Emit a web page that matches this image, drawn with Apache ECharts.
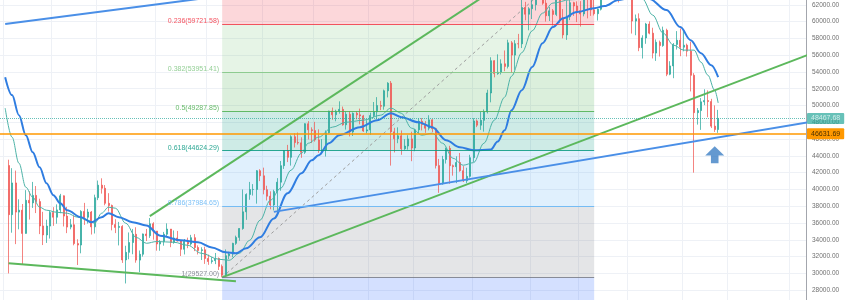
<!DOCTYPE html>
<html><head><meta charset="utf-8">
<script src="https://cdn.jsdelivr.net/npm/echarts@6/dist/echarts.min.js"></script>
<style>html,body{margin:0;padding:0;background:#fff}#c{width:850px;height:300px}</style>
</head><body><div id="c"></div>
<script>
// ---- categories (daily) ----
const categories = [];
(function () { const t0 = Date.UTC(2021, 4, 17); for (let i = 0; i < 240; i++) categories.push(new Date(t0 + i * 86400000).toISOString().slice(0, 10)); })();
const lastVisibleIndex = 233;
const gridDates = ['2021-05-18','2021-06-01','2021-06-14','2021-07-01','2021-07-16','2021-08-01','2021-08-16','2021-09-01','2021-09-14','2021-10-01','2021-10-18','2021-11-01','2021-11-15','2021-12-01','2021-12-14','2022-01-01'];

// ---- candles: [open, close, low, high], daily from candleStartDate ----
const candleStartDate = '2021-05-19';
const candles = [
[42849,37002,30000,43546],[37002,40782,34850,42536],[40782,37304,33488,42250],
[37304,37536,35256,38829],[37536,34770,31111,38270],[34770,38705,34737,39920],[38705,38402,36419,39791],[38402,39294,37800,40900],
[39294,38556,37190,40411],[38556,35658,34684,38900],[35658,34584,33379,37338],[34584,35641,33632,36400],[35641,37254,34153,37499],
[37254,36693,35666,37894],[36693,37568,35920,38225],[37568,39246,37170,39476],[39246,36830,35593,39289],[36830,35520,34800,37925],
[35520,35796,35258,36480],[35796,33552,33350,36900],[33552,33381,31000,34069],[33381,37389,32397,37534],[37389,36693,35780,38400],
[36693,37313,35938,37690],[37313,35546,34634,37439],[35546,39020,34757,39380],[39020,40516,38730,41064],[40516,40144,39506,41330],
[40144,38349,38116,40527],[38349,38092,37365,39559],[38092,35820,35129,38202],[35820,35483,34803,36457],[35483,35600,33336,36137],
[35600,31608,31251,35750],[31608,32509,28805,33298],[32509,33678,31683,34881],[33678,34663,32286,35298],[34663,31584,31275,35500],
[31584,32283,30151,32730],[32283,34700,32002,34749],[34700,34494,33862,35297],[34494,35911,34231,36600],[35911,35045,34017,36100],
[35045,33504,32711,35057],[33504,33786,32699,33977],[33786,34669,33306,34945],[34669,35287,34343,35967],[35287,33690,33125,35293],
[33690,34220,33535,35118],[34220,33862,33780,35059],[33862,32875,32077,33920],[32875,33815,32261,34100],[33815,33502,33005,34262],
[33502,34259,33320,34592],[34259,33086,32658,34678],[33086,32729,32261,33340],[32729,32820,31600,33114],[32820,31780,31133,33185],
[31780,31421,31020,32249],[31421,31520,31164,31935],[31520,31778,31108,32435],[31778,30839,30407,31899],[30839,29791,29527,31063],
[29791,32110,29600,32858],[32110,32314,31708,32576],[32314,33581,31925,33650],[33581,34292,33401,34500],[34292,35350,33888,35398],
[35350,37337,35205,40000],[37337,39406,36383,39542],[39406,39995,38772,40900],[39995,40008,39276,40640],[40008,42235,38313,42316],
[42235,41626,41000,42414],[41626,39974,39422,42599],[39974,39201,38690,40445],[39201,38152,37642,39780],[38152,39747,37508,39969],
[39747,40869,37332,41350],[40869,42836,39851,43392],[42836,44614,42450,44700],[44614,43829,43261,45310],[43829,46286,42843,46454],
[46286,45593,45000,46700],[45593,45551,45342,46784],[45551,44428,43770,46218],[44428,47833,44233,47886],[47833,47109,45960,48144],
[47109,47014,45525,47400],[47014,45902,45700,48053],[45902,44695,44376,47160],[44695,44705,44203,46000],[44705,46760,43927,47033],
[46760,49339,46651,49382],[49339,48905,48300,49757],[48905,49321,48124,49500],[49321,49546,49030,50500],[49546,47706,47600,49875],
[47706,48960,47136,49277],[48960,46843,46315,49342],[46843,49069,46370,49178],[49069,48895,48346,49309],[48895,48767,47762,49632],
[48767,46970,46853,48888],[46970,47100,46700,48250],[47100,48810,46512,49150],[48810,49246,48584,50420],[49246,49999,48376,51000],
[49999,49915,49453,50558],[49915,51756,49501,51900],[51756,52663,50969,52780],[52663,46863,42843,52920],[46863,46048,44412,47340],
[46048,46395,45513,47400],[46395,44850,44132,47033],[44850,45174,44722,45987],[45174,46026,44742,46460],[46026,44940,43370,46880],
[44940,47111,44556,47250],[47111,48122,46693,48475],[48122,47738,47036,48500],[47738,47299,46750,48150],[47299,48292,47044,48843],
[48292,47241,46830,48372],[47241,42844,42500,47347],[42844,40693,39600,43639],[40693,43574,40565,44000],[43574,44896,43092,44978],
[44896,42840,40675,45200],[42840,42716,41646,42970],[42716,43208,40750,43950],[43208,42236,42112,44350],[42236,41034,40888,42787],
[41034,41564,40753,42590],[41564,43790,41410,44132],[43790,48165,43283,48495],[48165,47657,47430,48336],[47657,48233,47100,49228],
[48233,49245,46891,49536],[49245,51493,49057,51886],[51493,55340,50382,55750],[55340,53805,53357,55400],[53805,53967,53661,56100],
[53967,54968,53700,55500],[54968,54660,54090,56561],[54660,57471,54415,57839],[57471,56005,53879,57680],[56005,57367,54252,57793],
[57367,57347,56818,58532],[57347,61672,56850,62933],[61672,60875,60150,62350],[60875,61528,58963,61718],[61528,62009,60300,62675],
[62009,64280,61322,64486],[64280,66002,63481,67000],[66002,62193,62000,66639],[62193,60688,60000,63732],[60688,61286,60070,61747],
[61286,60852,59522,61500],[60852,63078,60650,63710],[63078,60328,59817,63293],[60328,58413,58000,61496],[58413,60575,57820,62499],
[60575,62253,60174,62980],[62253,61859,60673,62359],[61859,61299,59944,62405],[61299,60911,59405,62437],[60911,63219,60624,64270],
[63219,62896,60382,63500],[62896,61395,60677,63086],[61395,60937,60721,62595],[60937,61470,60126,61560],[61470,63273,61322,63286],
[63273,67525,63273,67789],[67525,66947,66222,68530],[66947,64882,62822,69000],[64882,64774,64100,65600],[64774,64122,62278,65460],
[64122,64380,63360,65000],[64380,65519,63576,65550],[65519,63606,63400,66401],[63606,60058,58574,63617],[60058,60345,58373,60840],
[60345,56891,56474,60976],[56891,58052,55600,58366],[58052,59707,57353,59845],[59707,58622,58486,60029],[58622,56247,55610,59266],
[56247,57541,55317,57875],[57541,57138,55837,57735],[57138,58960,57000,59398],[58960,53726,53500,59150],[53726,54721,53610,55280],
[54721,57274,53256,57445],[57274,57776,56666,58865],[57776,56950,55875,59176],[56950,57184,56458,59053],[57184,56480,55837,57375],
[56480,53601,51680,57600],[53601,49152,42000,53859],[49152,49397,47727,49699],[49397,50442,47100,50890],[50442,50588,50039,51936],
[50588,50471,48600,51800],[50471,47545,47320,50797],[47545,47140,46851,50015],[47140,48467.68,46751,49485]
];

// ---- moving averages (day index, value) ----
const tealMaIdx = [1,3,5,7,9,11,13,16,19,22,25,27,29,31,33,36,39,42,45,50,54,58,63,66,69,72,75,78,81,84,87,89,92,96,100,105,110,113,116,119,122,125,128,131,134,137,140,143,146,148,151,154,157,160,165,172,179,184,186,189,192,195,198,201,203,205,207,208];
const tealMaVal = [49690,46230,43130,40270,39080,37890,37530,37290,37170,36700,36340,35980,37170,37890,37770,35980,34300,33590,33800,33710,33350,32400,31690,31570,32400,33950,36340,38720,40150,42300,44320,45510,46230,47420,48010,48250,48850,49690,49080,47300,46470,46700,45510,43720,42890,43200,45510,48250,50990,53500,56300,58900,61000,62200,62600,62800,63200,63300,62700,60770,58630,57200,56600,56600,55170,53620,51800,50300];
const blueMaIdx = [1,3,5,7,9,11,13,15,17,19,23,26,29,31,34,38,42,46,52,57,61,65,68,71,75,79,83,87,90,92,95,98,104,109,113,116,121,125,129,133,137,142,144,146,148,151,154,157,160,163,167,172,175,179,183,188,193,197,200,203,206,208];
const blueMaVal = [53380,51240,48850,46470,44440,42650,40750,39320,38360,37530,36700,36100,36700,37170,36700,36100,35720,34500,33950,33700,33100,32520,32400,33000,34300,36550,39550,41930,43480,44080,45510,46470,47420,48250,49080,48610,48010,47420,45870,45030,44670,44750,45700,47060,49450,51830,54580,57430,59340,60410,61130,61600,61850,62560,62900,62700,61370,59340,57790,56240,54810,53380];

// ---- Fibonacci retracement ----
const fibStart = '2021-07-20', fibEnd = '2021-11-05';
const fibLevels = [0.236, 0.382, 0.5, 0.618, 0.786, 1];
const fibPrices = [59721.58, 53951.41, 49287.85, 44624.29, 37984.65, 29527.00];
const fibHigh = 69048.71, fibExt = 5102.58;
const fibColors = ['#f23645', '#81c784', '#4caf50', '#089981', '#64b5f6', '#787b86'];
const fibExtColor = '#2962ff';
const fibDiagonal = [['2021-07-20', 29527], ['2021-11-05', 69048.71]];

// ---- drawings ----
const greenDown = [['2021-05-19', 31216], ['2021-07-24', 29071]];
const greenUpper = [['2021-06-29', 36817], ['2021-10-05', 63290]];
const greenLong = [['2021-07-20', 29527], ['2022-01-08', 56339]];
const blueUpper = [['2021-05-18', 59700], ['2021-07-16', 62847]];
const blueLower = [['2021-08-04', 37330], ['2022-01-08', 48130]];
const arrowPoint = [['2021-12-10', 44147]];
const lastPrice = 48467.68, supportPrice = 46631.69;

function rgba(hex, a) { const n = parseInt(hex.slice(1), 16); return `rgba(${n >> 16},${(n >> 8) & 255},${n & 255},${a})`; }

const candleOffset = categories.indexOf(candleStartDate);
const candleData = candles.map((c, i) => [categories[i + candleOffset], c[0], c[1], c[2], c[3]]);

const zoneData = [];
zoneData.push([{ xAxis: fibStart, yAxis: fibPrices[0], itemStyle: { color: rgba(fibColors[0], 0.2) } }, { xAxis: fibEnd, yAxis: fibHigh }]);
for (let i = 1; i < fibPrices.length; i++) zoneData.push([{ xAxis: fibStart, yAxis: fibPrices[i], itemStyle: { color: rgba(fibColors[i], 0.2) } }, { xAxis: fibEnd, yAxis: fibPrices[i - 1] }]);
zoneData.push([{ xAxis: fibStart, yAxis: fibExt, itemStyle: { color: rgba(fibExtColor, 0.2) } }, { xAxis: fibEnd, yAxis: fibPrices[fibPrices.length - 1] }]);

const FONT = 'Liberation Sans, Arial, sans-serif';
const levelLines = fibPrices.map((p, i) => [
  { coord: [fibStart, p], lineStyle: { color: fibColors[i], width: 1, type: 'solid', opacity: 0.85 },
    label: { show: true, position: 'start', distance: 3, offset: [0, -3], formatter: fibLevels[i] + '(' + p.toFixed(2) + ')', color: fibColors[i], fontSize: 7, fontFamily: FONT } },
  { coord: [fibEnd, p] }
]);

const trend = (data, color) => ({ type: 'line', data, symbol: 'none', z: 4, silent: true, lineStyle: { color, width: 2 } });

const chart = echarts.init(document.getElementById('c'), null, { renderer: 'canvas' });
chart.setOption({
  animation: false,
  backgroundColor: '#ffffff',
  grid: { left: 0, right: 44, top: -12, bottom: -7, containLabel: false, outerBoundsMode: 'none' },
  xAxis: {
    type: 'category', data: categories, max: lastVisibleIndex, boundaryGap: true,
    axisLine: { show: false }, axisTick: { show: false }, axisLabel: { show: false },
    splitLine: { show: true, interval: (idx, val) => gridDates.includes(val), lineStyle: { color: '#eef1f6', width: 1 } }
  },
  yAxis: {
    type: 'value', position: 'right', min: 26000, max: 64000, interval: 2000, scale: true,
    axisLine: { show: true, lineStyle: { color: '#a3a6ad', width: 1 } },
    axisTick: { show: false },
    axisLabel: { color: '#707070', fontSize: 6.5, fontFamily: FONT, margin: 6, formatter: v => v.toFixed(2) },
    splitLine: { show: true, lineStyle: { color: '#eef1f6', width: 1 } }
  },
  series: [
    {
      type: 'line', name: 'fib', data: fibDiagonal, symbol: 'none', z: 1, silent: true,
      lineStyle: { color: '#9e9e9e', width: 1, type: [3, 3] },
      markArea: { silent: true, z: 1, data: zoneData },
      markLine: { silent: true, z: 5, symbol: ['none', 'none'], data: levelLines }
    },
    {
      type: 'candlestick', name: 'BTC', data: candleData, encode: { x: 0, y: [1, 2, 3, 4] }, z: 2, barWidth: 1.5,
      itemStyle: { color: '#26a69a', color0: '#ef5350', borderColor: '#26a69a', borderColor0: '#ef5350', borderWidth: 0.8, opacity: 0.9 }
    },
    {
      type: 'line', name: 'maFast', data: tealMaIdx.map((d, i) => [categories[d], tealMaVal[i]]),
      symbol: 'none', smooth: 0.35, smoothMonotone: 'x', z: 3, silent: true, lineStyle: { color: '#4db3a7', width: 1 }
    },
    {
      type: 'line', name: 'maSlow', data: blueMaIdx.map((d, i) => [categories[d], blueMaVal[i]]),
      symbol: 'none', smooth: 0.35, smoothMonotone: 'x', z: 3, silent: true, lineStyle: { color: '#2f7de1', width: 2 }
    },
    trend(greenDown, '#5cb85c'),
    trend(greenUpper, '#5cb85c'),
    trend(greenLong, '#5cb85c'),
    trend(blueUpper, '#4a8fe7'),
    Object.assign(trend(blueLower, '#4a8fe7'), {
      markLine: {
        silent: true, z: 6, symbol: ['none', 'none'],
        data: [
          { yAxis: supportPrice, lineStyle: { color: '#ff9800', width: 1.5, type: 'solid' },
            label: { show: true, position: 'end', distance: 1, formatter: supportPrice.toFixed(2), color: '#4a3000', backgroundColor: '#ff9800', fontSize: 7, fontFamily: FONT, padding: [2, 4, 2, 4], borderRadius: 1 } },
          { yAxis: lastPrice, lineStyle: { color: '#26a69a', width: 1, type: 'dotted', opacity: 0.7 },
            label: { show: true, position: 'end', distance: 1, formatter: lastPrice.toFixed(2), color: '#ffffff', backgroundColor: '#26a69a', fontSize: 7, fontFamily: FONT, padding: [2, 4, 2, 4], borderRadius: 1 } }
        ]
      }
    }),
    {
      type: 'scatter', name: 'arrow', data: arrowPoint, z: 7, silent: true,
      symbol: 'path://M10,0L20,10L14,10L14,18L6,18L6,10L0,10Z', symbolSize: [19, 17],
      itemStyle: { color: '#3d7fc4' }
    }
  ]
});
</script>
</body></html>
